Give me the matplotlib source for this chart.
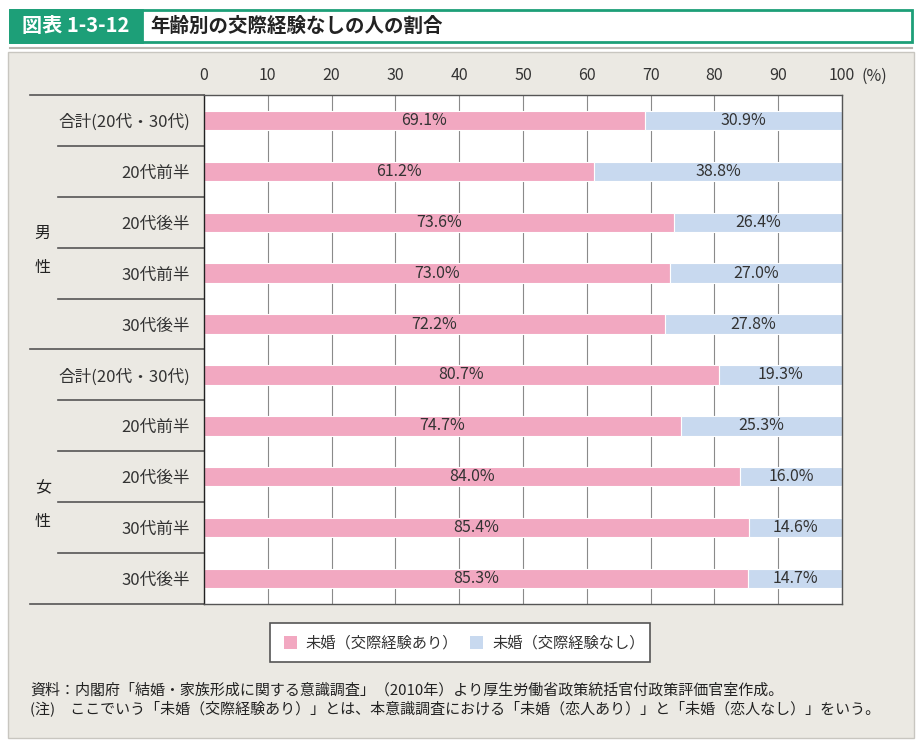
import numpy as np
import matplotlib.pyplot as plt
from matplotlib.patches import Rectangle
from matplotlib.transforms import blended_transform_factory

plt.rcParams['font.family'] = ['Noto Sans CJK JP', 'DejaVu Sans']

# データ
categories = ['合計(20代・30代)', '20代前半', '20代後半', '30代前半', '30代後半',
              '合計(20代・30代)', '20代前半', '20代後半', '30代前半', '30代後半']
with_exp = [69.1, 61.2, 73.6, 73.0, 72.2, 80.7, 74.7, 84.0, 85.4, 85.3]
without_exp = [30.9, 38.8, 26.4, 27.0, 27.8, 19.3, 25.3, 16.0, 14.6, 14.7]
groups = ['男\n\n性', '女\n\n性']
series_names = ['未婚（交際経験あり）', '未婚（交際経験なし）']
xticks = [0, 10, 20, 30, 40, 50, 60, 70, 80, 90, 100]

pink = '#f2a8c1'
blue = '#c8d9ef'
green = '#1d9f78'
panel = '#ebe9e3'

W, H = 923, 745
fig = plt.figure(figsize=(W / 100, H / 100), dpi=100)
fig.patch.set_facecolor('white')


def fx(px):
    return px / W


def fy(py):
    return 1 - py / H


# 見出し
fig.patches.append(Rectangle((fx(10), fy(42)), fx(902), 32 / H, transform=fig.transFigure,
                             facecolor='white', edgecolor=green, linewidth=2))
fig.patches.append(Rectangle((fx(10), fy(42)), fx(132), 32 / H, transform=fig.transFigure,
                             facecolor=green, edgecolor=green, linewidth=2))
fig.text(fx(76), fy(26), '図表 1-3-12', color='white', fontsize=14.5, fontweight='bold',
         ha='center', va='center')
fig.text(fx(150), fy(26), '年齢別の交際経験なしの人の割合', color='#222222', fontsize=14,
         fontweight='bold', ha='left', va='center')
fig.lines.append(plt.Line2D([fx(10), fx(912)], [fy(48), fy(48)], transform=fig.transFigure,
                            color='#b8b6b0', linewidth=1.5))

# 背景パネル
fig.patches.append(Rectangle((fx(8), fy(738)), fx(906), 686 / H, transform=fig.transFigure,
                             facecolor=panel, edgecolor='#c8c6c0', linewidth=1))

# グラフ
left, right, top, bottom = 204, 842, 95, 604
ax = fig.add_axes([fx(left), fy(bottom), fx(right - left), (bottom - top) / H])
ax.set_zorder(2)
ax.set_facecolor('white')

y = np.arange(len(categories))
bh = 0.38
ax.barh(y, with_exp, height=bh, color=pink, edgecolor='white', linewidth=0.8, zorder=2)
ax.barh(y, without_exp, left=with_exp, height=bh, color=blue, edgecolor='white',
        linewidth=0.8, zorder=2)

for i in range(len(categories)):
    ax.text(with_exp[i] / 2, y[i], f'{with_exp[i]:.1f}%', ha='center', va='center',
            fontsize=11.5, color='#333333', zorder=3)
    ax.text(with_exp[i] + without_exp[i] / 2, y[i], f'{without_exp[i]:.1f}%', ha='center',
            va='center', fontsize=11.5, color='#333333', zorder=3)

ax.set_xlim(0, 100)
ax.set_ylim(len(categories) - 0.5, -0.5)
ax.set_xticks(xticks)
ax.set_xticklabels([str(t) for t in xticks])
ax.xaxis.tick_top()
ax.tick_params(axis='x', length=0, pad=8, labelsize=11.5, labelcolor='#333333')
ax.set_yticks(y)
ax.set_yticklabels(categories)
ax.tick_params(axis='y', length=0, pad=10, labelsize=12, labelcolor='#333333')
ax.grid(axis='x', color='#8a8a8a', linewidth=0.8, zorder=0)
ax.set_axisbelow(True)
for s in ax.spines.values():
    s.set_color('#555555')
    s.set_linewidth(1.0)
ax.spines['left'].set_color('#222222')
ax.text(1.03, 1 + 19 / (bottom - top), '(%)', transform=ax.transAxes, ha='left',
        va='center', fontsize=11.5, color='#333333')

# 行の区切り線
tr = blended_transform_factory(ax.transAxes, ax.transData)
x_inner = -(left - 58) / (right - left)
x_outer = -(left - 30) / (right - left)
for k in range(len(categories) + 1):
    yy = k - 0.5
    x0 = x_outer if k in (0, 5, 10) else x_inner
    ax.plot([x0, 0], [yy, yy], transform=tr, color='#555555', linewidth=1.2, clip_on=False)

# 性別ラベル
for g, label in enumerate(groups):
    ax.text(x_outer + 0.02, g * 5 + 2.55, label, transform=tr, ha='center', va='center',
            fontsize=11.5, color='#222222', linespacing=1.0)

# 凡例
fig.patches.append(Rectangle((fx(270), fy(662)), fx(380), 39 / H, transform=fig.transFigure,
                             facecolor='white', edgecolor='#555555', linewidth=1.2))
fig.patches.append(Rectangle((fx(284), fy(649)), fx(13), 13 / H, transform=fig.transFigure,
                             facecolor=pink, edgecolor='none'))
fig.text(fx(305), fy(643), series_names[0], fontsize=11, ha='left', va='center',
         color='#333333')
fig.patches.append(Rectangle((fx(470), fy(649)), fx(13), 13 / H, transform=fig.transFigure,
                             facecolor=blue, edgecolor='none'))
fig.text(fx(492), fy(643), series_names[1], fontsize=11, ha='left', va='center',
         color='#333333')

# 注記
fig.text(fx(30), fy(690), '資料：内閣府「結婚・家族形成に関する意識調査」（2010年）より厚生労働省政策統括官付政策評価官室作成。',
         fontsize=10.8, ha='left', va='center', color='#222222')
fig.text(fx(30), fy(708), '(注)　ここでいう「未婚（交際経験あり）」とは、本意識調査における「未婚（恋人あり）」と「未婚（恋人なし）」をいう。',
         fontsize=10.8, ha='left', va='center', color='#222222')

fig.savefig('out.png', dpi=100, facecolor=fig.get_facecolor())
